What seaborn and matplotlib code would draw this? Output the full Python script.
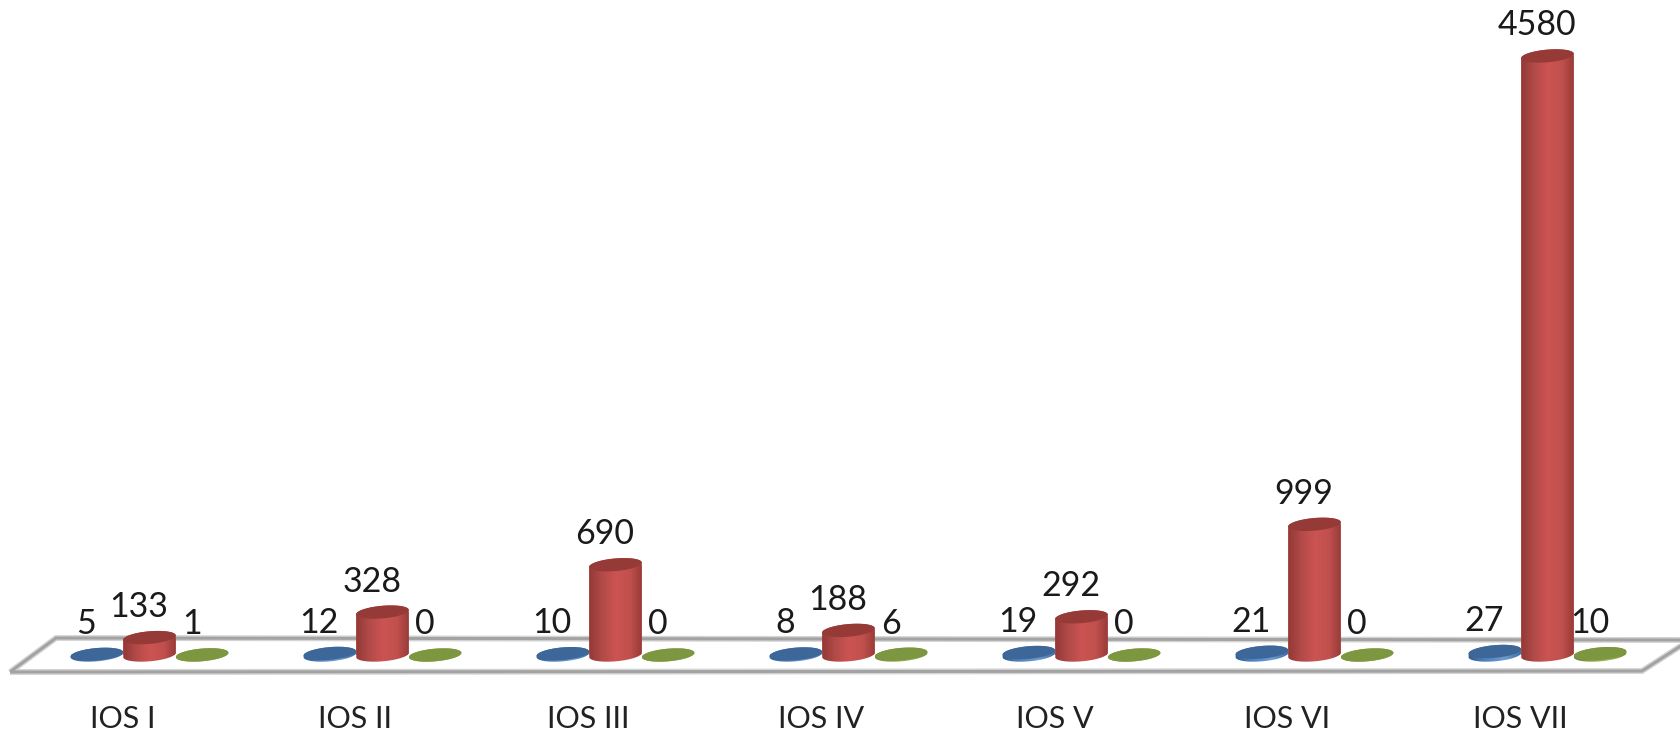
import numpy as np
import pandas as pd
import matplotlib
matplotlib.use("Agg")
import matplotlib.pyplot as plt
import seaborn as sns
from matplotlib.colors import LinearSegmentedColormap
from matplotlib.patches import Polygon
from matplotlib.transforms import IdentityTransform, ScaledTranslation

categories = ["IOS I", "IOS II", "IOS III", "IOS IV", "IOS V", "IOS VI", "IOS VII"]
series_a = [5, 12, 10, 8, 19, 21, 27]
series_b = [133, 328, 690, 188, 292, 999, 4580]
series_c = [1, 0, 0, 6, 0, 0, 10]

W, H = 1681, 733
sns.set_theme(style="white")
plt.rcParams["font.family"] = ["Lato", "DejaVu Sans"]

df = pd.DataFrame({
    "release": categories * 3,
    "series": ["a"] * 7 + ["b"] * 7 + ["c"] * 7,
    "value": series_a + series_b + series_c,
})

fig = plt.figure(figsize=(W / 100, H / 100), dpi=100, facecolor="white")
ax = fig.add_axes([0, 43 / H, 1, 690 / H])
ax.set_facecolor("none")

palette = {"a": "#3c6798", "b": "#c0504d", "c": "#7f9a3e"}
sns.barplot(data=df, x="release", y="value", hue="series", hue_order=["a", "b", "c"],
            palette=palette, width=0.678, gap=0, saturation=1, legend=False,
            linewidth=0, ax=ax)

px_per_cat = 233.0
ax.set_xlim(-149.5 / px_per_cat, (W - 149.5) / px_per_cat)
ax.set_ylim(-35 / 0.1308, 655 / 0.1308)
ax.set_xlabel("")
ax.set_ylabel("")
ax.set_yticks([])
sns.despine(ax=ax, left=True, bottom=True)
ax.tick_params(axis="x", length=0, pad=11, labelsize=22, labelcolor="#222222")
shift = ScaledTranslation(-27 / 100, 0, fig.dpi_scale_trans)
for lab in ax.get_xticklabels():
    lab.set_transform(lab.get_transform() + shift)

# Floor plane of the 3-D chart (figure pixels, y from top), behind the bars
floor = np.array([[10, 672], [56, 638], [1690, 640], [1642, 671]], float)
floor_fig = np.column_stack([floor[:, 0] / W, 1 - floor[:, 1] / H])
for lw, col, zo in [(4.2, "#d4d4d4", 1.0), (2.2, "#a3a3a3", 1.1)]:
    ax.add_patch(Polygon(floor_fig, closed=True, fill=False, edgecolor=col, linewidth=lw,
                         joinstyle="miter", transform=fig.transFigure, zorder=zo,
                         clip_on=False))

styles = {
    "a": (["#2f5a8a", "#4f82bd", "#6c9bd2", "#3a6aa0"], "#3c6798", 3.0),
    "b": (["#8f3634", "#b04a48", "#cc5452", "#c0504d", "#8f3634"], "#963a38", 3.5),
    "c": (["#667d30", "#8aa548", "#9bbb59", "#6f8a36"], "#7c9740", 3.2),
}
ANGLE = np.deg2rad(5.0)
B = 6.3


def half_ellipse(cx, cy, a, b, t0, t1):
    t = np.linspace(t0, t1, 60)
    ex, ey = a * np.cos(t), b * np.sin(t)
    return np.column_stack([cx + ex * np.cos(ANGLE) - ey * np.sin(ANGLE),
                            cy + ex * np.sin(ANGLE) + ey * np.cos(ANGLE)])


fig.canvas.draw()
xlim, ylim = ax.get_xlim(), ax.get_ylim()
for key, cont in zip(["a", "b", "c"], ax.containers):
    stops, top_col, z = styles[key]
    cmap = LinearSegmentedColormap.from_list(key, stops)
    for bar in cont:
        x0, x1 = bar.get_x(), bar.get_x() + bar.get_width()
        val = bar.get_height()
        (px0, py0), (px1, py1) = ax.transData.transform([(x0, 0), (x1, val)])
        cx, a = (px0 + px1) / 2, (px1 - px0) / 2
        outline = np.vstack([half_ellipse(cx, py0, a, B, np.pi, 2 * np.pi),
                             half_ellipse(cx, py1, a, B, 0, np.pi)])
        clip = Polygon(outline, closed=True, transform=IdentityTransform())
        bar.set_zorder(z)
        bar.set_clip_path(clip)
        pad_y = 14 / 0.1308
        im = ax.imshow(np.linspace(0, 1, 64).reshape(1, -1), cmap=cmap, aspect="auto",
                       extent=(x0 - 0.01, x1 + 0.01, -pad_y, val + pad_y), zorder=z + 0.01,
                       interpolation="bilinear")
        im.set_clip_path(clip)
        ax.add_patch(Polygon(half_ellipse(cx, py1, a, B, 0, 2 * np.pi), closed=True,
                             facecolor=top_col, edgecolor="none",
                             transform=IdentityTransform(), zorder=z + 0.02))
        ax.annotate(f"{val:.0f}", xy=((x0 + x1) / 2, val), xytext=(-10.5 * 0.72, 30.5 * 0.72),
                    textcoords="offset points", ha="center", va="center",
                    fontsize=24.5, color="#1a1a1a", zorder=6)
ax.set_xlim(xlim)
ax.set_ylim(ylim)

fig.savefig("out.png", dpi=100, facecolor="white")
